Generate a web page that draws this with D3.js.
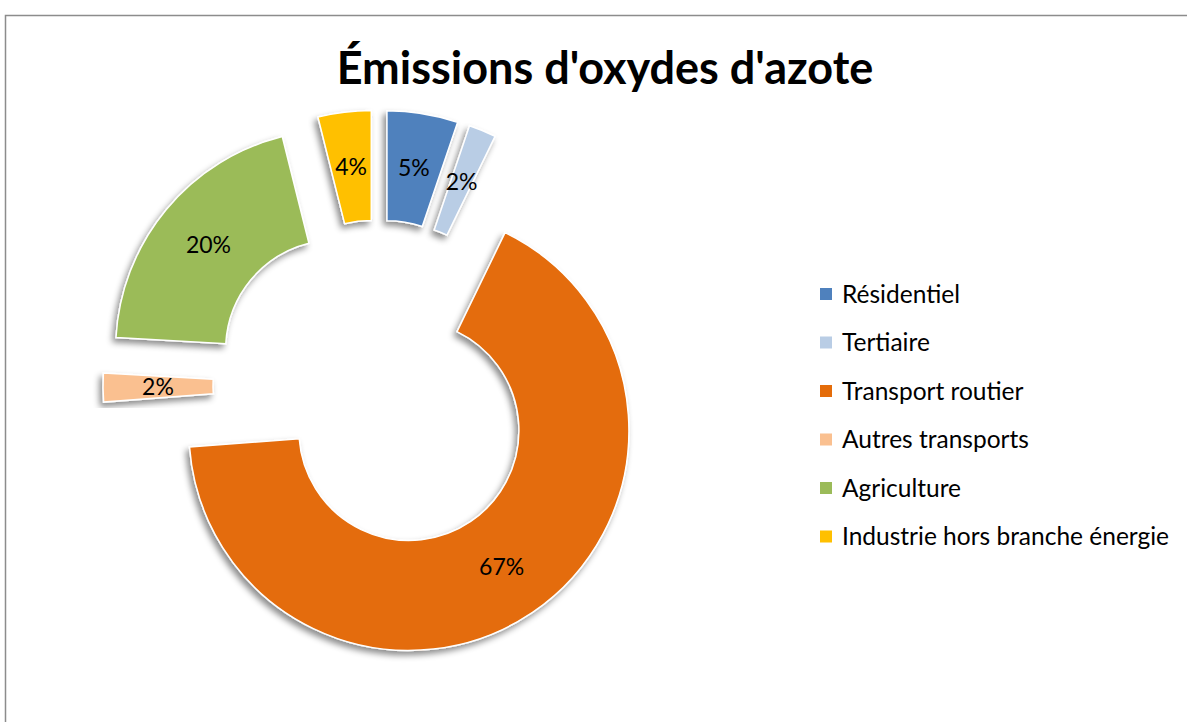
<!DOCTYPE html>
<html>
<head>
<meta charset="utf-8">
<script src="https://cdn.jsdelivr.net/npm/d3@7"></script>
<style>
  body { margin: 0; background: #fff; }
  svg { display: block; }
</style>
</head>
<body>
<svg id="chart" width="1187" height="722"></svg>
<script>
// -- data -- //
const categories = ["Résidentiel", "Tertiaire", "Transport routier", "Autres transports", "Agriculture", "Industrie hors branche énergie"];
const values = [5.2, 2.0, 66.6, 2.1, 20.2, 3.9];
const labels = ["5%", "2%", "67%", "2%", "20%", "4%"];
const colors = ["#4F81BD", "#B9CDE5", "#E46C0A", "#FAC090", "#9BBB59", "#FFC000"];
const title = "Émissions d'oxydes d'azote";

const svg = d3.select("#chart");
const font = "Lato, 'Open Sans', sans-serif";

// -- chart frame -- //
svg.append("rect")
  .attr("x", 5.5).attr("y", 15.5)
  .attr("width", 1200).attr("height", 720)
  .attr("fill", "none")
  .attr("stroke", "#8c8c8c")
  .attr("stroke-width", 1.5);

// -- drop shadow -- //
const defs = svg.append("defs");
const f = defs.append("filter").attr("id", "shadow")
  .attr("x", "-20%").attr("y", "-20%").attr("width", "140%").attr("height", "140%");
f.append("feDropShadow")
  .attr("dx", -3).attr("dy", 4)
  .attr("stdDeviation", 3)
  .attr("flood-color", "#000")
  .attr("flood-opacity", 0.45);

// -- title -- //
svg.append("text")
  .attr("x", 605).attr("y", 84)
  .attr("text-anchor", "middle")
  .style("font-family", font)
  .style("font-weight", "bold")
  .style("font-size", "45px")
  .attr("fill", "#000")
  .text(title);

// -- donut -- //
const cx = 378, cy = 385;
const outerR = 220, innerR = 110, explode = 55;

const pie = d3.pie().sort(null).value(d => d);
const arc = d3.arc().innerRadius(innerR).outerRadius(outerR);
const arcs = pie(values);

const g = svg.append("g").attr("transform", `translate(${cx},${cy})`);

const slices = g.selectAll(".slice")
  .data(arcs)
  .enter()
  .append("g")
  .attr("class", "slice")
  .attr("transform", d => {
    let mid = (d.startAngle + d.endAngle) / 2;
    return `translate(${explode * Math.sin(mid)},${-explode * Math.cos(mid)})`;
  });

slices.append("path")
  .attr("d", arc)
  .attr("fill", (d, i) => colors[i])
  .attr("stroke", "#fff")
  .attr("stroke-width", 1.5)
  .attr("filter", "url(#shadow)");

slices.append("text")
  .attr("transform", d => `translate(${arc.centroid(d)})`)
  .attr("text-anchor", "middle")
  .attr("dy", "0.35em")
  .style("font-family", font)
  .style("font-size", "23px")
  .attr("fill", "#000")
  .text((d, i) => labels[i]);

// -- legend -- //
const legend = svg.append("g").attr("transform", "translate(820,294)");
const rows = legend.selectAll(".row")
  .data(categories)
  .enter()
  .append("g")
  .attr("class", "row")
  .attr("transform", (d, i) => `translate(0,${i * 48.5})`);

rows.append("rect")
  .attr("x", 0).attr("y", -6)
  .attr("width", 12).attr("height", 12)
  .attr("fill", (d, i) => colors[i]);

rows.append("text")
  .attr("x", 22).attr("dy", "0.35em")
  .style("font-family", font)
  .style("font-size", "24.5px")
  .attr("fill", "#000")
  .text(d => d);
</script>
</body>
</html>
